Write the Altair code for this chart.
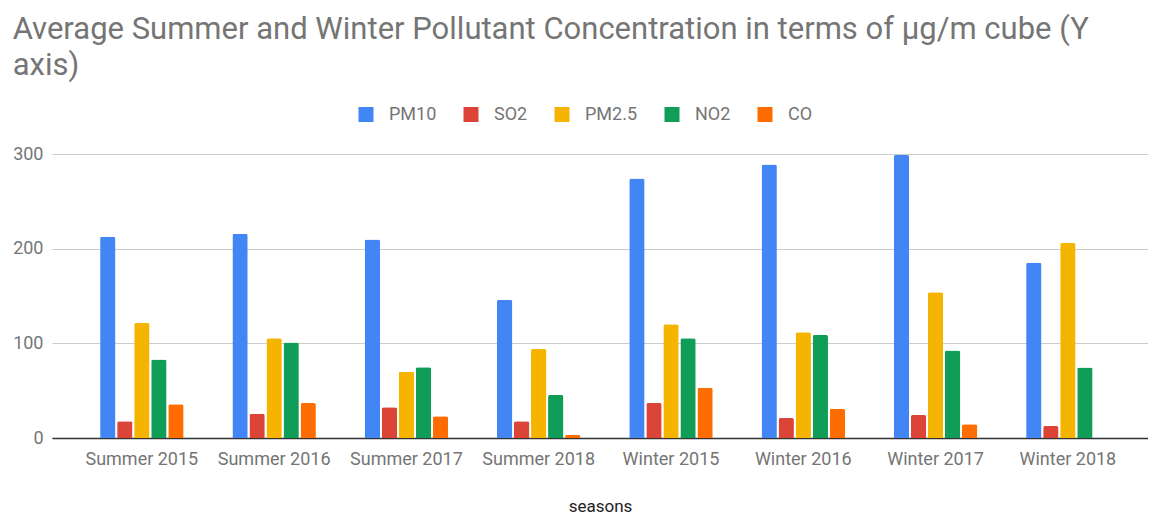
import altair as alt
import pandas as pd

seasons = ["Summer 2015", "Summer 2016", "Summer 2017", "Summer 2018",
           "Winter 2015", "Winter 2016", "Winter 2017", "Winter 2018"]
pollutants = ["PM10", "SO2", "PM2.5", "NO2", "CO"]
pm10 = [212.5, 215.7, 209.7, 145.9, 274.2, 289.0, 298.9, 185.0]
so2 = [17.6, 25.7, 32.4, 17.6, 37.0, 21.1, 24.3, 12.7]
pm25 = [121.6, 105.4, 70.1, 94.1, 120.2, 111.7, 154.0, 205.9]
no2 = [82.8, 100.8, 74.7, 45.5, 105.4, 108.9, 92.4, 74.4]
co = [35.6, 37.0, 22.9, 3.2, 53.2, 31.0, 14.5, 0.0]
colors = ["#4285F4", "#DB4437", "#F4B400", "#0F9D58", "#FF6D01"]
y_ticks = [0, 100, 200, 300]

series = {"PM10": pm10, "SO2": so2, "PM2.5": pm25, "NO2": no2, "CO": co}
rows = []
for p in pollutants:
    for s, v in zip(seasons, series[p]):
        rows.append({"season": s, "pollutant": p, "value": v})
df = pd.DataFrame(rows)

FONT = "Roboto"
GRAY = "#757575"

chart = alt.Chart(df).mark_bar(cornerRadiusTopLeft=2, cornerRadiusTopRight=2).encode(
    x=alt.X("season:N", sort=seasons,
            scale=alt.Scale(paddingInner=0.369, paddingOuter=0.327, align=0.556),
            axis=alt.Axis(title="seasons", labelAngle=0, ticks=False,
                          domainColor="#333333", domainWidth=1.5,
                          labelFont=FONT, labelFontSize=18, labelColor=GRAY,
                          labelPadding=12, titleFont=FONT, titleFontSize=17,
                          titleFontWeight="normal", titleColor="#222222",
                          titlePadding=30)),
    xOffset=alt.XOffset("pollutant:N", sort=pollutants,
                        scale=alt.Scale(paddingInner=0.1, paddingOuter=0)),
    y=alt.Y("value:Q", scale=alt.Scale(domain=[0, 300], nice=False),
            axis=alt.Axis(values=y_ticks, title=None, ticks=False, domain=False,
                          gridColor="#cccccc", labelFont=FONT, labelFontSize=18,
                          labelColor=GRAY, labelPadding=9)),
    color=alt.Color("pollutant:N", sort=pollutants,
                    scale=alt.Scale(domain=pollutants, range=colors),
                    legend=alt.Legend(title=None, orient="none", direction="horizontal",
                                      legendX=305, legendY=-48.5,
                                      symbolType="square", symbolSize=225,
                                      symbolStrokeWidth=0, labelFont=FONT,
                                      labelFontSize=18, labelColor=GRAY,
                                      labelOffset=14, columnPadding=25)),
).properties(
    width=1096,
    height=284,
    autosize=alt.AutoSizeParams(type="none"),
    padding={"left": 44, "top": 146, "right": 0, "bottom": 77},
    title=alt.Title(
        ["Average Summer and Winter Pollutant Concentration in terms of \u00b5g/m cube (Y",
         "axis)"],
        anchor="start", font=FONT, fontSize=31, fontWeight="normal",
        color=GRAY, lineHeight=36, offset=24),
).configure_view(stroke=None)

chart.save("out.html", embed_options={"renderer": "svg", "actions": False})
